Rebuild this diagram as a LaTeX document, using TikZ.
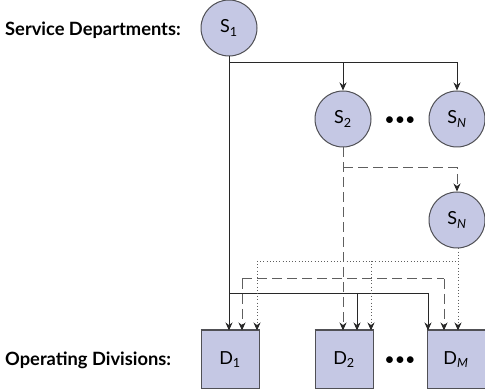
\documentclass[tikz,border=0pt]{standalone}
\usepackage{fontspec}
\setmainfont{Lato}
\setsansfont{Lato}
\usetikzlibrary{arrows.meta}
\definecolor{nodefill}{RGB}{197,200,228}
\definecolor{nodeline}{RGB}{80,80,85}
\definecolor{wire}{RGB}{40,40,40}
\definecolor{dashc}{RGB}{95,95,95}
\tikzset{
  svc/.style={circle,draw=nodeline,fill=nodefill,line width=1pt,minimum size=56pt,inner sep=0pt,font=\fontsize{18}{20}\selectfont},
  div/.style={rectangle,draw=nodeline,fill=nodefill,line width=1pt,minimum width=58pt,minimum height=57pt,inner sep=0pt,font=\fontsize{18}{20}\selectfont},
  lbl/.style={anchor=west,font=\bfseries\fontsize{18.3}{20}\selectfont,inner sep=0pt},
  wr/.style={draw=wire,line width=0.8pt},
  tip/.style={-{Stealth[length=8pt,width=7pt,color=wire]}},
  dsh/.style={draw=dashc,line width=1pt,dash pattern=on 10pt off 5pt},
  dtt/.style={draw=dashc,line width=0.9pt,dash pattern=on 1pt off 2.2pt},
  dots/.style={font=\fontsize{18}{20}\selectfont,inner sep=0pt}
}
\begin{document}
\begin{tikzpicture}[x=1pt,y=-1pt]
\useasboundingbox (0,0) rectangle (485,390);
% labels
\node[lbl] (lsd) at (5,30) {Service Departments:};
\node[lbl] (lod) at (5,360) {Operating Divisions:};
% service departments
\node[svc] (s1) at (229,28) {S\textsubscript{1}};
\node[svc] (s2) at (343,119) {S\textsubscript{2}};
\node[svc] (sn) at (457,119) {S\textsubscript{\textit{N}}};
\node[svc] (sn2) at (457,220) {S\textsubscript{\textit{N}}};
\node[dots] (dt1) at (400,121) {\textbullet\textbullet\textbullet};
% divisions
\node[div] (d1) at (230,359.5) {D\textsubscript{1}};
\node[div] (d2) at (344,359.5) {D\textsubscript{2}};
\node[div] (dm) at (456,359.5) {D\textsubscript{\textit{M}}};
\node[dots] (dt2) at (400,361) {\textbullet\textbullet\textbullet};
% thicker top edges
\draw[draw=nodeline,line width=2pt] (d1.north west) -- (d1.north east);
\draw[draw=nodeline,line width=2pt] (d2.north west) -- (d2.north east);
\draw[draw=nodeline,line width=2pt] (dm.north west) -- (dm.north east);
% junction coordinates
\coordinate (j1) at (229,62);
\coordinate (j2) at (343,168);
\coordinate (p1) at (257,261);
\coordinate (p2) at (371,261);
\coordinate (p3) at (458,261);
\coordinate (q1) at (242,279);
\coordinate (q2) at (444,279);
\coordinate (r1) at (229,293);
\coordinate (r2) at (357,293);
\coordinate (r3) at (428,293);
% solid connections from S1
\draw[wr,tip] (s1.south) -- (s1.south |- d1.north);
\draw[wr,tip] (j1) -| (s2.north);
\draw[wr,tip] (j1) -| (sn.north);
\draw[wr] (r1) -- (r3);
\draw[wr,tip] (r2) -- (r2 |- d2.north);
\draw[wr,tip] (r3) -- (r3 |- d2.north);
% dashed from S2
\draw[dsh,tip] (s2.south) -- (s2.south |- d2.north);
\draw[dsh,tip] (j2) -| (sn2.north);
\draw[dsh] (q1) -- (q2);
\draw[dsh,tip] (q1) -- (q1 |- d1.north);
\draw[dsh,tip] (q2) -- (q2 |- dm.north);
% dotted from second SN
\draw[dtt,tip] (sn2.south -| p3) -- (p3 |- dm.north);
\draw[dtt] (p1) -- (p3);
\draw[dtt,tip] (p1) -- (p1 |- d1.north);
\draw[dtt,tip] (p2) -- (p2 |- d2.north);
\end{tikzpicture}
\end{document}
